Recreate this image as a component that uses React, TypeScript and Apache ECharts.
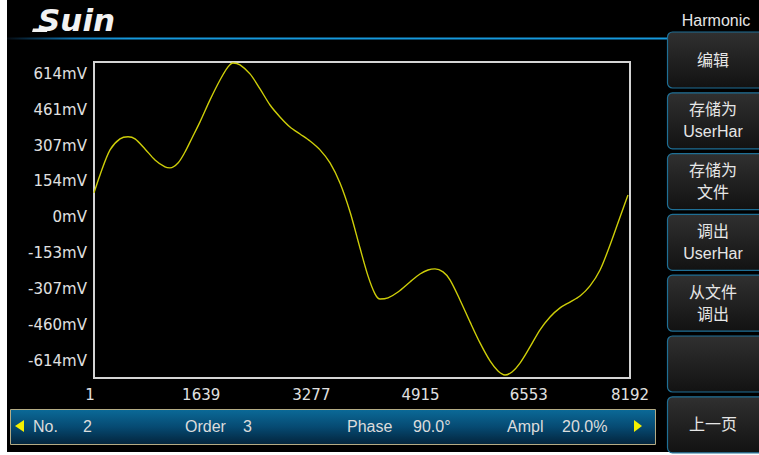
import React, { useEffect, useRef } from "react";
import * as echarts from "echarts";

// Waveform samples (sample index, millivolts)
const sampleIndex = [
  1, 93, 246, 398, 521, 628, 780, 933, 1086, 1162, 1285, 1392, 1499, 1621,
  1774, 1927, 2049, 2125, 2232, 2385, 2538, 2691, 2843, 2996, 3149, 3302, 3455,
  3608, 3760, 3913, 4066, 4188, 4295, 4372, 4494, 4647, 4830, 4983, 5105, 5212,
  5335, 5441, 5594, 5747, 5900, 6053, 6175, 6282, 6389, 6511, 6664, 6817, 6970,
  7123, 7275, 7428, 7581, 7734, 7887, 8040, 8161,
];
const millivolts = [
  105, 182, 289, 336, 345, 336, 293, 246, 216, 212, 233, 280, 340, 409,
  503, 588, 644, 661, 653, 614, 550, 481, 430, 387, 357, 327, 289,
  233, 147, 24, -131, -250, -327, -349, -344, -319, -276, -242, -225, -220,
  -233, -267, -353, -447, -537, -614, -657, -674, -661, -623, -554, -481, -426,
  -387, -362, -336, -293, -225, -118, 2, 96,
];

const xTickValues = [1, 1639, 3277, 4915, 6553, 8192];
const xTickShift = [-4, 0, 3, 5, 6, 0];
const yTickValues = [614, 461, 307, 154, 0, -153, -307, -460, -614];

const menuTitle = "Harmonic";
const menuButtons = [
  ["编辑"],
  ["存储为", "UserHar"],
  ["存储为", "文件"],
  ["调出", "UserHar"],
  ["从文件", "调出"],
  [],
  ["上一页"],
];
const statusItems = [
  { text: "No.", x: 33 },
  { text: "2", x: 83 },
  { text: "Order", x: 185 },
  { text: "3", x: 243 },
  { text: "Phase", x: 347 },
  { text: "90.0°", x: 413 },
  { text: "Ampl", x: 507 },
  { text: "20.0%", x: 562 },
];

export default function App() {
  const ref = useRef<HTMLDivElement>(null);
  useEffect(() => {
    if (!ref.current) return;
    const chart = echarts.init(ref.current, null, { renderer: "svg" });
    const data = sampleIndex.map((s, i) => [s, millivolts[i]]);
    const uiFont = "16px 'Liberation Sans', 'Noto Sans CJK SC'";

    const rich: Record<string, any> = {};
    xTickShift.forEach((s, i) => {
      rich["t" + i] = {
        color: "#e0e0e0",
        fontFamily: "DejaVu Sans",
        fontSize: 15,
        padding: s < 0 ? [0, -2 * s, 0, 0] : [0, 0, 0, 2 * s],
      };
    });

    const graphics: any[] = [];
    // white page edges
    graphics.push({ type: "rect", shape: { x: 0, y: 0, width: 7, height: 455 }, style: { fill: "#fff" }, silent: true });
    graphics.push({ type: "rect", shape: { x: 0, y: 452, width: 759, height: 3 }, style: { fill: "#fff" }, silent: true });
    // logo
    graphics.push({
      type: "polygon",
      shape: { points: [[33, 28.5], [48, 28.5], [47, 32], [32, 32]] },
      style: { fill: "#f2f2f2" },
    });
    graphics.push({
      type: "text",
      x: 38,
      y: 20,
      style: {
        text: "Suin",
        fill: "#f2f2f2",
        font: "italic 900 31px 'DejaVu Sans'",
        textAlign: "left",
        textVerticalAlign: "middle",
      },
    });
    // blue header line
    graphics.push({
      type: "rect",
      shape: { x: 7, y: 37.5, width: 752, height: 2 },
      style: {
        fill: {
          type: "linear", x: 0, y: 0, x2: 1, y2: 0,
          colorStops: [
            { offset: 0, color: "#050a10" },
            { offset: 0.09, color: "#0f78b8" },
            { offset: 0.16, color: "#1699dd" },
            { offset: 1, color: "#1699dd" },
          ],
        },
      },
    });
    // menu title
    graphics.push({
      type: "text", x: 716, y: 20,
      style: { text: menuTitle, fill: "#e6e6e6", font: uiFont, textAlign: "center", textVerticalAlign: "middle" },
    });
    // menu buttons
    menuButtons.forEach((lines, i) => {
      const top = 32 + i * 60.8;
      graphics.push({
        type: "rect",
        shape: { x: 667.5, y: top, width: 100, height: 56, r: 5 },
        style: {
          fill: {
            type: "linear", x: 0, y: 0, x2: 0, y2: 1,
            colorStops: [
              { offset: 0, color: "#303030" },
              { offset: 1, color: "#121212" },
            ],
          },
          stroke: "#1f6f95",
          lineWidth: 1.2,
        },
      });
      const cy = top + 28;
      lines.forEach((t, j) => {
        const y = lines.length === 1 ? cy : cy - 11 + j * 22;
        graphics.push({
          type: "text", x: 713, y,
          style: { text: t, fill: "#e6e6e6", font: "16px 'Liberation Sans', 'Noto Sans CJK SC'", textAlign: "center", textVerticalAlign: "middle" },
        });
      });
    });
    // status bar
    graphics.push({
      type: "rect",
      shape: { x: 10.5, y: 409.5, width: 645, height: 35 },
      style: {
        fill: {
          type: "linear", x: 0, y: 0, x2: 0, y2: 1,
          colorStops: [
            { offset: 0, color: "#0b6a98" },
            { offset: 0.5, color: "#064a72" },
            { offset: 1, color: "#03243c" },
          ],
        },
        stroke: "#b4ab84",
        lineWidth: 1,
      },
    });
    graphics.push({ type: "polygon", shape: { points: [[15, 426], [24, 420], [24, 432]] }, style: { fill: "#f4f000" } });
    graphics.push({ type: "polygon", shape: { points: [[642, 426], [634, 420], [634, 432]] }, style: { fill: "#f4f000" } });
    statusItems.forEach((it) => {
      graphics.push({
        type: "text", x: it.x, y: 426,
        style: { text: it.text, fill: "#dcdcdc", font: uiFont, textAlign: "left", textVerticalAlign: "middle" },
      });
    });

    chart.setOption({
      animation: false,
      backgroundColor: "#000",
      grid: {
        left: 94, top: 62, width: 536, height: 316,
        show: true, borderColor: "#d4d4d4", borderWidth: 2, backgroundColor: "transparent",
      },
      xAxis: {
        type: "value", min: 1, max: 8192,
        axisLine: { show: false }, axisTick: { show: false }, splitLine: { show: false },
        axisLabel: {
          customValues: xTickValues,
          formatter: (v: number) => {
            const i = xTickValues.indexOf(v);
            return `{t${i}|${v}}`;
          },
          rich,
          color: "#e0e0e0", fontFamily: "DejaVu Sans", fontSize: 15, margin: 9,
        },
      },
      yAxis: {
        type: "value", min: -687, max: 665,
        axisLine: { show: false }, axisTick: { show: false }, splitLine: { show: false },
        axisLabel: {
          customValues: yTickValues,
          formatter: (v: number) => `${v}mV`,
          color: "#e0e0e0", fontFamily: "DejaVu Sans", fontSize: 15, margin: 7,
        },
      },
      series: [
        {
          type: "line",
          data,
          smooth: 0.3,
          showSymbol: false,
          lineStyle: { color: "#cdcd08", width: 1.4 },
          z: 3,
        },
      ],
      graphic: { elements: graphics },
    });
    return () => chart.dispose();
  }, []);
  return (
    <div
      ref={ref}
      style={{ position: "fixed", left: 0, top: 0, width: 759, height: 455 }}
    />
  );
}
